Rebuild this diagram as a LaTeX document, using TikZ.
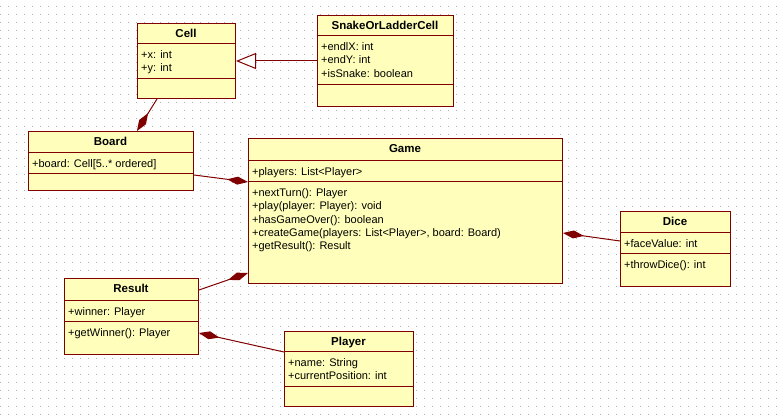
\documentclass[tikz,border=0pt]{standalone}
\usepackage{fontspec}
\setmainfont{Liberation Sans}
\usetikzlibrary{arrows.meta,calc}
\definecolor{umlred}{RGB}{128,0,0}
\definecolor{umlfill}{RGB}{255,255,187}
\definecolor{dotgray}{RGB}{175,175,175}
\tikzset{
  classbox/.style={draw=umlred, fill=umlfill, line width=1pt, rectangle, inner sep=0pt, anchor=north west},
  divider/.style={draw=umlred, line width=1pt},
  ctitle/.style={anchor=base, inner sep=0pt, font=\fontsize{11.5}{13}\selectfont\bfseries},
  cattr/.style={anchor=base west, inner sep=0pt, font=\fontsize{11}{13.3}\selectfont},
  link/.style={draw=umlred, line width=1pt},
  compo/.style={link, -{Diamond[length=21pt, width=8pt, fill=umlred]}},
  inherit/.style={link, -{Triangle[open, length=20pt, width=16pt, fill=white]}},
  dotgrid/.style={draw=dotgray, line width=1pt, dash pattern=on 1pt off 7pt, line cap=butt},
}
% name, x1, y1, x2, y2, div1, div2, title
\newcommand\umlclass[8]{%
  \node[classbox, minimum width={(#4-#2)*1pt}, minimum height={(#5-#3)*1pt}] (#1) at (#2,#3) {};
  \draw[divider] (#2,#6) -- (#4,#6);
  \draw[divider] (#2,#7) -- (#4,#7);
  \node[ctitle] (#1-title) at ({(#2+#4)/2},{#3+14.5}) {#8};
}
% name, x, y (first baseline), list of lines
\newcommand\umllines[4]{%
  \foreach \t [count=\k] in {#4} {
    \node[cattr] (#1-\k) at (#2,{#3+14.5+13.3*(\k-1)}) {\t};
  }
}
\begin{document}
\begin{tikzpicture}[x=1pt, y=-1pt]
\useasboundingbox (0,0) rectangle (782,419);
\fill[white] (0,0) rectangle (782,419);
\foreach \j in {0,...,51} {
  \draw[dotgrid] (0,{6.5+8*\j}) -- (782,{6.5+8*\j});
}

\umlclass{cell}{137}{23}{235}{98}{44}{79}{Cell}
\umllines{cellattr}{141}{44}{+x: int,+y: int}

\umlclass{solc}{317}{15}{453}{106}{36}{85}{SnakeOrLadderCell}
\umllines{solcattr}{321}{36}{+endlX: int,+endY: int,+isSnake: boolean}

\umlclass{board}{28}{131}{193}{190}{153}{174}{Board}
\umllines{boardattr}{32}{153}{+board: Cell[5..* ordered]}

\umlclass{game}{248}{138}{562}{283}{161}{182}{Game}
\umllines{gameattr}{252}{161}{+players: List<Player>}
\umllines{gameops}{252}{182}{+nextTurn(): Player,+play(player: Player): void,+hasGameOver(): boolean,{+createGame(players: List<Player>, board: Board)},+getResult(): Result}

\umlclass{dice}{620}{211}{730}{286}{233}{254}{Dice}
\umllines{diceattr}{624}{233}{+faceValue: int}
\umllines{diceops}{624}{254}{+throwDice(): int}

\umlclass{result}{64}{278}{198}{354}{301}{322}{Result}
\umllines{resultattr}{68}{301}{+winner: Player}
\umllines{resultops}{68}{322}{+getWinner(): Player}

\umlclass{player}{284}{331}{413}{406}{352}{387}{Player}
\umllines{playerattr}{288}{352}{+name: String,+currentPosition: int}

% connectors
\draw[inherit] (solc.west) -- (cell.east);
\draw[compo] ($(cell.south west)+(20,0)$) -- ($(board.north west)+(109,0)$);
\draw[compo] ($(board.south east)+(0,-16)$) -- ($(game.north west)+(0,44)$);
\draw[compo] ($(dice.north west)+(0,30)$) -- ($(game.north east)+(0,95)$);
\draw[compo] ($(result.north east)+(0,12)$) -- ($(game.south west)+(0,-11)$);
\draw[compo] ($(player.north west)+(0,21)$) -- ($(result.north east)+(0,55)$);
\end{tikzpicture}
\end{document}
